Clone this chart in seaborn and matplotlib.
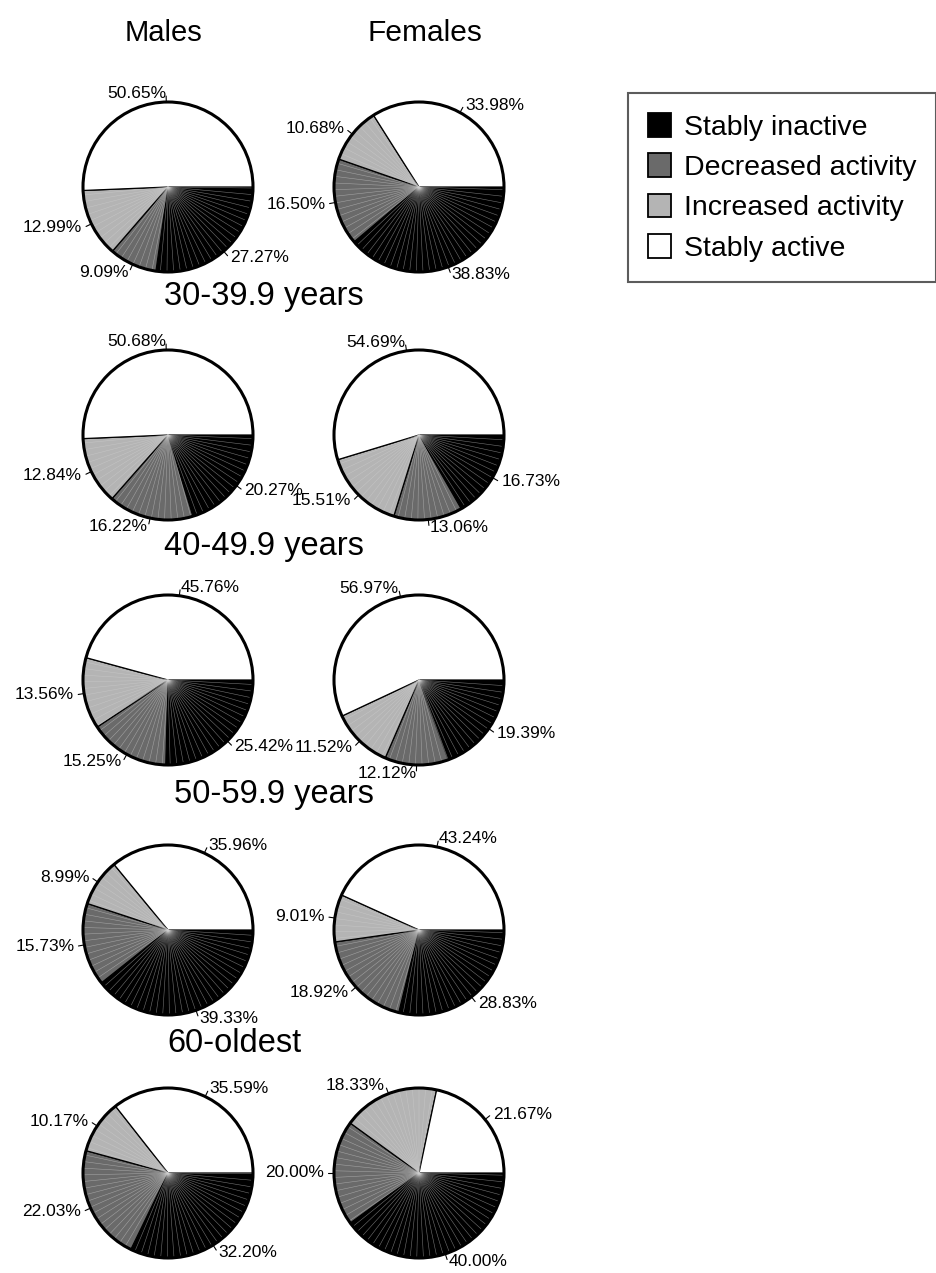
import numpy as np
import matplotlib.pyplot as plt
import seaborn as sns
from matplotlib.patches import Patch, Circle

# slice order: stably inactive, decreased, increased, stably active
categories = ['Stably inactive', 'Decreased activity', 'Increased activity', 'Stably active']
age_groups = ['30-39.9 years', '40-49.9 years', '50-59.9 years', '60-oldest']
males = [
    [27.27, 9.09, 12.99, 50.65],
    [20.27, 16.22, 12.84, 50.68],
    [25.42, 15.25, 13.56, 45.76],
    [39.33, 15.73, 8.99, 35.96],
    [32.20, 22.03, 10.17, 35.59],
]
females = [
    [38.83, 16.50, 10.68, 33.98],
    [16.73, 13.06, 15.51, 54.69],
    [19.39, 12.12, 11.52, 56.97],
    [28.83, 18.92, 9.01, 43.24],
    [40.00, 20.00, 18.33, 21.67],
]

colors = ['#000000', '#6a6a6a', '#b4b4b4', '#ffffff']

sns.set_theme(style="white")
plt.rcParams['font.family'] = ['Liberation Sans', 'DejaVu Sans']
plt.rcParams['text.color'] = 'black'

W, H = 937, 1273
fig = plt.figure(figsize=(W / 100, H / 100), dpi=100)
ax = fig.add_axes([0, 0, 1, 1])

R = 85
col_x = [168, 419]
row_y = [187, 435, 680, 930, 1173]


def draw_pie(vals, cx, cy):
    cy = H - cy
    wedges, _ = ax.pie(vals, colors=colors, startangle=0, counterclock=False,
                       center=(cx, cy), radius=R, frame=True,
                       wedgeprops=dict(edgecolor='black', linewidth=0.9))
    for w, v in zip(wedges, vals):
        t1, t2 = w.theta1, w.theta2
        # faint radial streaks like the original renderer
        if w.get_facecolor()[0] < 0.9:
            for a in np.arange(t1 + 3, t2, 4.5):
                r = np.deg2rad(a)
                ax.plot([cx, cx + R * np.cos(r)], [cy, cy + R * np.sin(r)],
                        color='#d0d0d0', lw=0.4, alpha=0.55, zorder=3)
        mid = np.deg2rad((t1 + t2) / 2)
        c, s = np.cos(mid), np.sin(mid)
        ax.plot([cx + R * c, cx + 1.07 * R * c], [cy + R * s, cy + 1.07 * R * s],
                color='black', lw=0.8, zorder=4)
        ax.text(cx + 1.12 * R * c, cy + 1.1 * R * s, f'{v:.2f}%',
                ha='left' if c > 0 else 'right', va='center',
                fontsize=12.5, color='black', zorder=5)
    ax.add_patch(Circle((cx, cy), R, fill=False, edgecolor='black', lw=2.2, zorder=4))


for i in range(5):
    draw_pie(males[i], col_x[0], row_y[i])
    draw_pie(females[i], col_x[1], row_y[i])

ax.set_xlim(0, W)
ax.set_ylim(0, H)
ax.set_aspect('equal')
ax.axis('off')

# column headers
ax.text(164, H - 33, 'Males', ha='center', va='center', fontsize=21)
ax.text(425, H - 33, 'Females', ha='center', va='center', fontsize=21.5)

# age group titles between rows
title_pos = [(264, 297), (264, 547), (274, 795), (234, 1043)]
for name, (tx, ty) in zip(age_groups, title_pos):
    ax.text(tx, H - ty, name, ha='center', va='center', fontsize=23.5)

handles = [Patch(facecolor=c, edgecolor='black', linewidth=1.3) for c in colors]
leg = fig.legend(handles, categories, loc='upper left',
                 bbox_to_anchor=(628 / W, 1 - 93 / H), fontsize=20.5,
                 frameon=True, fancybox=False, edgecolor='#333333',
                 handlelength=0.8, handleheight=0.9, handletextpad=0.45,
                 labelspacing=0.45, borderpad=0.7, borderaxespad=0)
leg.get_frame().set_linewidth(1.5)

fig.savefig('out.png', dpi=100)
